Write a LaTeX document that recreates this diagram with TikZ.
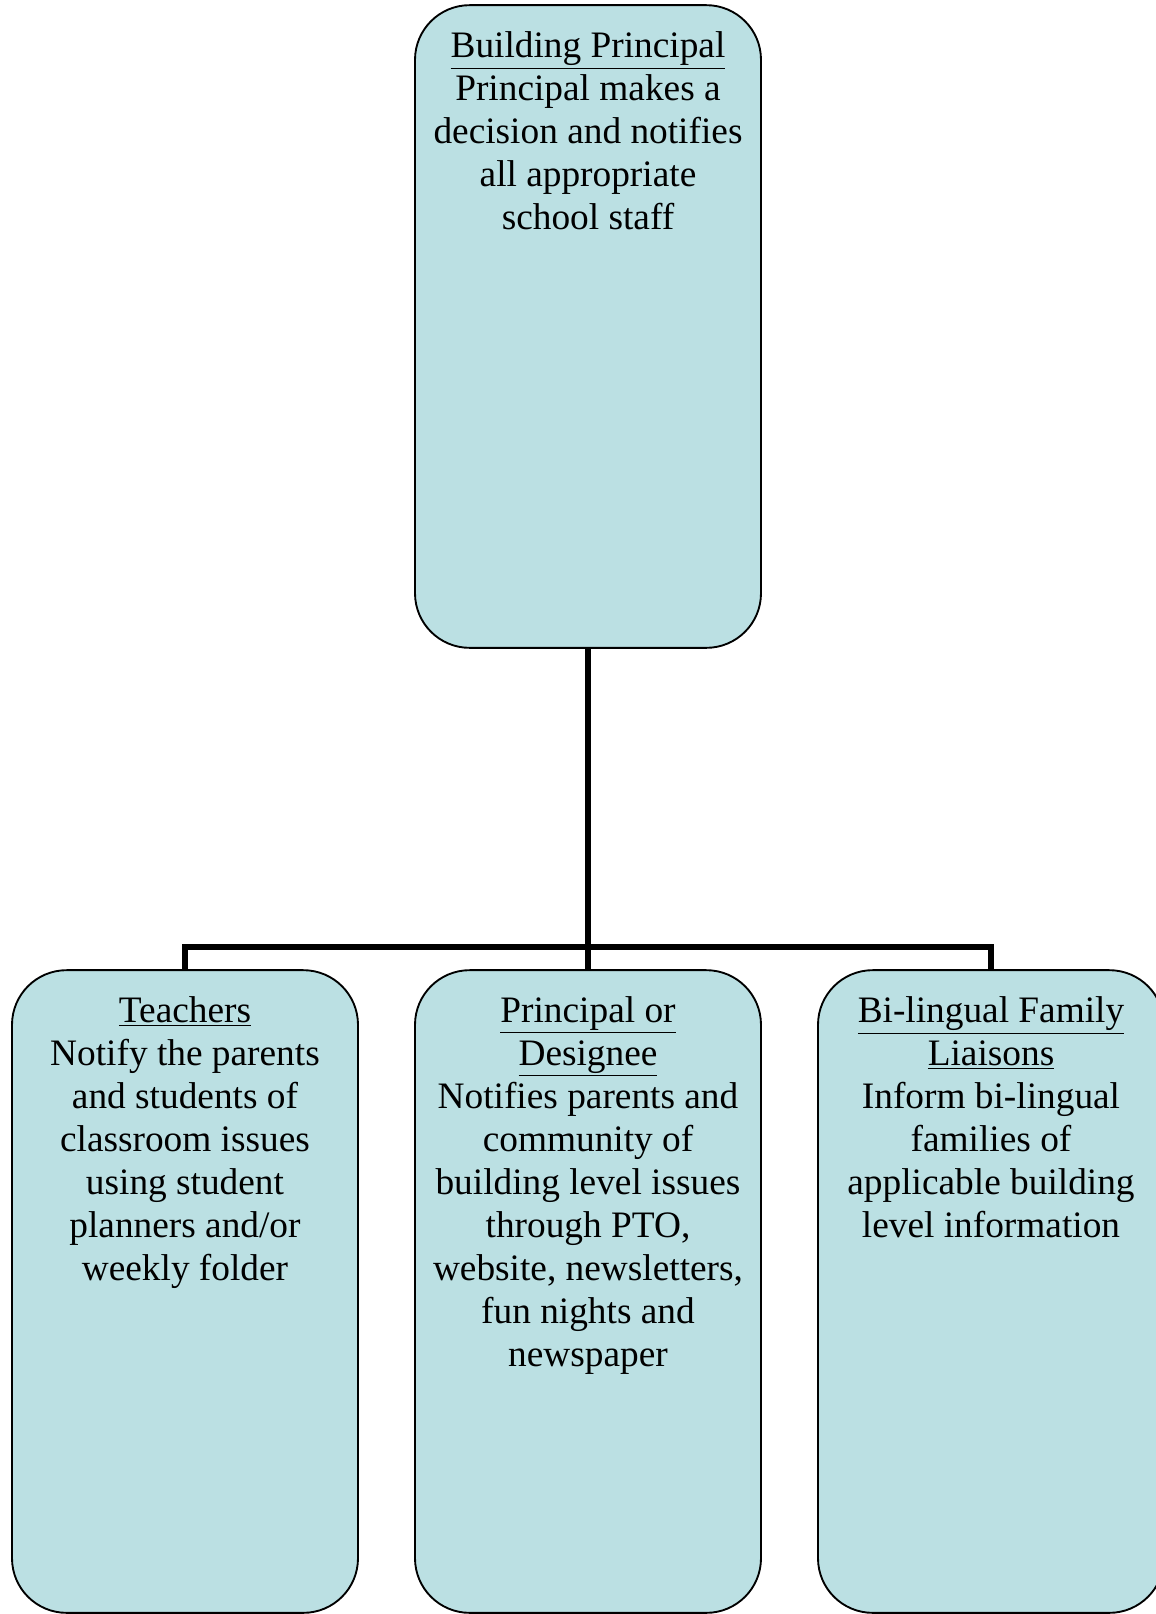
\documentclass[tikz,border=0pt]{standalone}
\usepackage{fontspec}
\setmainfont{Liberation Serif}
\usetikzlibrary{positioning}
\definecolor{boxfill}{RGB}{187,224,227}
\tikzset{
  orgbox/.style={draw=black, line width=1.4pt, fill=boxfill, rounded corners=41pt,
    minimum width=259.5pt, minimum height=482pt, inner sep=0pt},
  boxtext/.style={anchor=north, align=center, inner sep=0pt, yshift=-20.6pt,
    font=\fontsize{28}{32.2}\selectfont},
  connector/.style={line width=4pt, black}
}
\begin{document}
\begin{tikzpicture}[x=0.75pt,y=-0.75pt]
    \useasboundingbox (0,0) rectangle (1156,1614);

    % Cuadros
    \node[orgbox, label={[boxtext]north:{\underline{Building Principal}\\Principal makes a\\decision and notifies\\all appropriate\\school staff}}] (principal) at (588,326.5) {};
    \node[orgbox, label={[boxtext]north:{\underline{Teachers}\\Notify the parents\\and students of\\classroom issues\\using student\\planners and/or\\weekly folder}}] (teachers) at (185,1291.5) {};
    \node[orgbox, label={[boxtext]north:{\underline{Principal or}\\\underline{Designee}\\Notifies parents and\\community of\\building level issues\\through PTO,\\website, newsletters,\\fun nights and\\newspaper}}] (designee) at (588,1291.5) {};
    \node[orgbox, label={[boxtext]north:{\underline{Bi-lingual Family}\\\underline{Liaisons}\\Inform bi-lingual\\families of\\applicable building\\level information}}] (liaisons) at (991,1291.5) {};

    % Conectores
    \coordinate (split) at (588,947);
    \begin{scope}[connector]
        \draw (principal.south) -- (designee.north);
        \draw (teachers.north) |- (split) -| (liaisons.north);
    \end{scope}
\end{tikzpicture}
\end{document}
